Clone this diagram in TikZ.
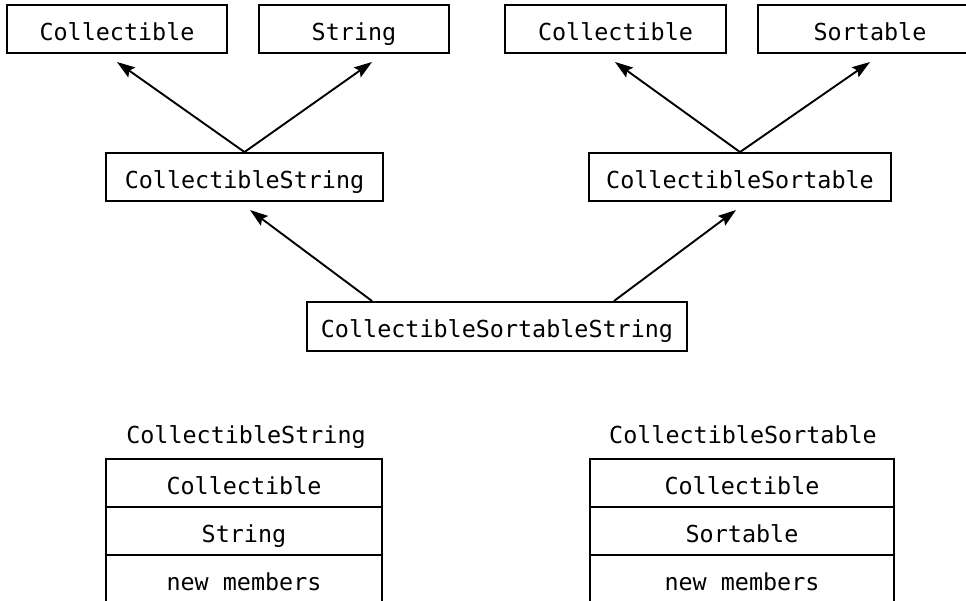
\documentclass[tikz,border=0pt]{standalone}
\usepackage{fontspec}
\setmonofont{DejaVu Sans Mono}
\usetikzlibrary{arrows.meta,positioning}
\begin{document}
\begin{tikzpicture}[x=1pt,y=-1pt,
  every node/.style={font=\ttfamily\fontsize{23.4}{28}\selectfont, inner sep=0pt},
  cls/.style={draw, line width=1.9pt, minimum height=48pt, text height=24pt, text depth=2pt},
  slot/.style={draw, line width=1.9pt, outer sep=0pt, minimum width=276pt, minimum height=48pt, text height=24pt, text depth=2pt},
  inherit/.style={line width=1.9pt, -{Stealth[length=18pt,width=12pt,inset=3pt]}}
]
\clip (0,0) rectangle (966,600);
\fill[white] (0,0) rectangle (966,600);

% base classes
\node[cls, minimum width=220pt] (c1) at (117,29) {Collectible};
\node[cls, minimum width=190pt] (s1) at (354,29) {String};
\node[cls, minimum width=221pt] (c2) at (615.5,29) {Collectible};
\node[cls, minimum width=224pt] (so) at (870,29) {Sortable};

% intermediate classes
\node[cls, minimum width=277pt] (cs)  at (244.5,177) {CollectibleString};
\node[cls, minimum width=302pt] (cso) at (740,177) {CollectibleSortable};

% most derived class
\node[cls, minimum width=380pt, minimum height=49pt] (css) at (497,326.5) {CollectibleSortableString};

% arrow tips
\coordinate (t1) at (117,62);
\coordinate (t2) at (372,62);
\coordinate (t3) at (615,62);
\coordinate (t4) at (870,62);
\coordinate (t5) at (250,210);
\coordinate (t6) at (736,210);
\coordinate (css-l) at ([xshift=66pt]css.north west);
\coordinate (css-r) at ([xshift=-74pt]css.north east);

\draw[inherit] (cs.north) -- (t1);
\draw[inherit] (cs.north) -- (t2);
\draw[inherit] (cso.north) -- (t3);
\draw[inherit] (cso.north) -- (t4);
\draw[inherit] (css-l) -- (t5);
\draw[inherit] (css-r) -- (t6);

% object layouts
\node[anchor=base] (lcs) at (246,443) {CollectibleString};
\node[slot, anchor=north] (a1) at (244,459) {Collectible};
\node[slot, anchor=north] (a2) at (a1.south) {String};
\node[slot, anchor=north] (a3) at (a2.south) {new members};

\node[anchor=base] (lcso) at (743,443) {CollectibleSortable};
\node[slot, minimum width=304pt, anchor=north] (b1) at (742,459) {Collectible};
\node[slot, minimum width=304pt, anchor=north] (b2) at (b1.south) {Sortable};
\node[slot, minimum width=304pt, anchor=north] (b3) at (b2.south) {new members};
\end{tikzpicture}
\end{document}
